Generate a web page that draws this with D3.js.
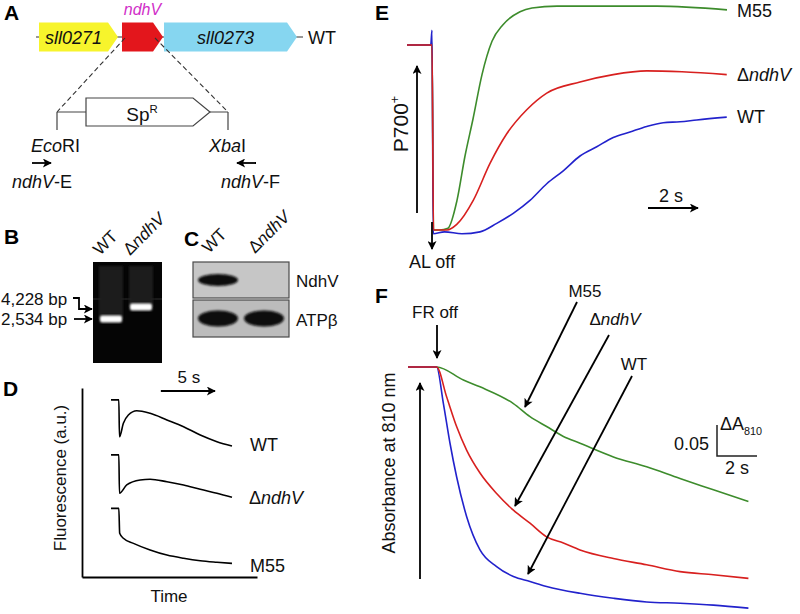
<!DOCTYPE html>
<html>
<head>
<meta charset="utf-8">
<script src="https://d3js.org/d3.v7.min.js"></script>
<style>
  body { margin: 0; background: #fff; }
  svg { font-family: "Liberation Sans", Arial, sans-serif; }
  .panel { font-size: 21px; font-weight: bold; fill: #000; }
  .trace { fill: none; stroke-width: 1.6; stroke-linejoin: round; }
  .arr { stroke: #000; stroke-width: 1.8; fill: none; }
</style>
</head>
<body>
<svg id="fig" width="800" height="614"></svg>
<script>
// ---- A: gene map (map units) ----
const geneNames = ["sll0271", "ndhV", "sll0273"];
const geneStart = [3, 86, 128];
const geneEnd = [82, 127, 261];
const geneColors = ["#f7f42c", "#e3161c", "#86d6f0"];
const cassetteName = "Sp";
const siteNames = ["Eco", "Xba"];
const primerNames = ["ndhV-E", "ndhV-F"];

// ---- B: PCR gel ----
const gelLanes = ["WT", "\u0394ndhV"];
const gelBands = [2534, 4228];
const ladderLabels = ["4,228 bp", "2,534 bp"];

// ---- C: western blot ----
const blotLanes = ["WT", "\u0394ndhV"];
const blotProteins = ["NdhV", "ATP\u03b2"];
const blotSignal = [[1, 0], [1, 1]];

// ---- D: chlorophyll fluorescence (s, a.u.) ----
const fluorStrains = ["WT", "\u0394ndhV", "M55"];
const fluorTime = [
  [0, 0.72, 0.78, 1.14, 1.6, 2.38, 3.61, 5.16, 6.7, 8.24, 9.78, 11.17],
  [0, 0.72, 0.78, 1.45, 2.69, 3.61, 5.16, 6.7, 8.24, 9.78, 11.17],
  [0, 0.72, 0.8, 1.14, 2.07, 3.61, 5.16, 6.7, 8.24, 9.78, 11.17]
];
const fluorValue = [
  [93.7, 93.7, 74.2, 81.3, 85.7, 88.0, 86.6, 83.1, 79.5, 75.1, 71.6, 69.3],
  [64.6, 64.6, 44.3, 48.7, 51.3, 51.7, 50.4, 48.7, 46.4, 44.3, 42.2],
  [36.3, 36.3, 23.1, 20.5, 17.8, 14.3, 11.6, 9.9, 8.6, 7.8, 7.2]
];

// ---- E: P700+ re-reduction after AL off (s, relative) ----
const p700Strains = ["M55", "\u0394ndhV", "WT"];
const p700Colors = ["#3d8c2c", "#d8201f", "#2222cc"];
const p700Time = [
  [0, 0.95, 1.0, 1.06, 1.3, 1.64, 2.0, 2.32, 2.64, 3.0, 3.4, 3.84, 4.52, 5.0, 6, 8, 10, 12.8],
  [0, 0.95, 1.0, 1.06, 1.3, 1.6, 1.99, 2.65, 3.32, 3.99, 4.79, 5.59, 6.92, 8.25, 9.59, 11, 12.79],
  [0, 0.95, 1.0, 1.05, 1.5, 2.2, 2.92, 3.59, 4.25, 4.92, 5.59, 6.25, 6.92, 7.59, 8.25, 8.92, 9.59, 10.25, 10.92, 11.59, 12.79]
];
const p700Value = [
  [1, 1, 1.01, 0, 0, 0.01, 0.16, 0.4, 0.6, 0.84, 1.02, 1.11, 1.18, 1.2, 1.21, 1.21, 1.21, 1.19],
  [1, 1, 1.0, 0, 0, 0.0, 0.03, 0.16, 0.36, 0.52, 0.65, 0.74, 0.80, 0.84, 0.86, 0.855, 0.84],
  [1, 1, 1.08, -0.02, -0.01, -0.02, -0.01, 0.036, 0.09, 0.16, 0.25, 0.32, 0.40, 0.45, 0.50, 0.53, 0.56, 0.58, 0.585, 0.595, 0.61]
];
const alOff = 1.0;

// ---- F: absorbance at 810 nm after FR off (s, dA) ----
const absStrains = ["M55", "\u0394ndhV", "WT"];
const absTime = [
  [0, 1.43, 2.77, 3.6, 5.27, 6.1, 6.93, 7.77, 8.6, 10.27, 11.93, 13.6, 15.27, 17.02],
  [0, 1.43, 1.93, 2.43, 2.93, 3.6, 4.43, 5.27, 6.1, 6.93, 7.77, 8.6, 10.27, 11.93, 13.6, 15.27, 17.02],
  [0, 1.43, 1.77, 2.1, 2.43, 2.93, 3.6, 4.43, 5.27, 6.1, 6.93, 8.6, 10.27, 11.93, 13.6, 15.27, 17.02]
];
const absValue = [
  [0, 0, -0.021, -0.032, -0.059, -0.080, -0.096, -0.112, -0.123, -0.145, -0.161, -0.180, -0.198, -0.217],
  [0, 0, -0.048, -0.096, -0.134, -0.171, -0.204, -0.231, -0.252, -0.274, -0.284, -0.295, -0.309, -0.319, -0.330, -0.335, -0.341],
  [0, 0, -0.059, -0.123, -0.177, -0.241, -0.295, -0.322, -0.338, -0.346, -0.354, -0.365, -0.373, -0.379, -0.381, -0.384, -0.389]
];
const frOff = 1.45;

const svg = d3.select("#fig");
const defs = svg.append("defs");
defs.append("marker").attr("id", "ah").attr("viewBox", "0 0 10 10")
  .attr("refX", 9).attr("refY", 5).attr("markerWidth", 11).attr("markerHeight", 9)
  .attr("markerUnits", "userSpaceOnUse").attr("orient", "auto")
  .append("path").attr("d", "M0,0L10,5L0,10L2.5,5z").attr("fill", "#000");
defs.append("filter").attr("id", "blur").append("feGaussianBlur").attr("stdDeviation", 1.6);
defs.append("filter").attr("id", "blur2").append("feGaussianBlur").attr("stdDeviation", 0.9);

// text helper: parts = [[text, style]] with style "i", "sup", "sub" or ""
function rich(g, x, y, parts, size, anchor) {
  const t = g.append("text").attr("x", x).attr("y", y)
    .attr("font-size", size).attr("text-anchor", anchor || "start").attr("fill", "#111");
  parts.forEach(p => {
    const s = t.append("tspan").text(p[0]);
    if (p[1] == "i") s.attr("font-style", "italic");
    if (p[1] == "sup") s.attr("font-size", size * 0.6).attr("dy", -size * 0.42);
    if (p[1] == "sub") s.attr("font-size", size * 0.6).attr("dy", size * 0.25);
  });
  return t;
}
function dndhv(g, x, y, size, anchor) {
  return rich(g, x, y, [["\u0394", ""], ["ndhV", "i"]], size, anchor);
}
function arrow(g, x1, y1, x2, y2, w) {
  g.append("line").attr("class", "arr").attr("x1", x1).attr("y1", y1)
    .attr("x2", x2).attr("y2", y2).attr("stroke-width", w || 1.8)
    .attr("marker-end", "url(#ah)");
}

// ================= A =================
const gA = svg.append("g");
gA.append("text").attr("class", "panel").attr("x", 4).attr("y", 20).text("A");
const mx = d3.scaleLinear().domain([0, 270]).range([36, 306]);
const rowY = 37, halfH = 14.5, tip = 10;
gA.append("line").attr("x1", mx(0)).attr("x2", mx(267)).attr("y1", rowY).attr("y2", rowY)
  .attr("stroke", "#333").attr("stroke-width", 1.2);
function pent(x0, x1, yc, h, tp) {
  return `M${x0},${yc - h}L${x1 - tp},${yc - h}L${x1},${yc}L${x1 - tp},${yc + h}L${x0},${yc + h}Z`;
}
geneNames.forEach((n, i) => {
  gA.append("path").attr("d", pent(mx(geneStart[i]), mx(geneEnd[i]), rowY, halfH, tip))
    .attr("fill", geneColors[i]);
  if (i == 1) {
    rich(gA, (mx(geneStart[i]) + mx(geneEnd[i])) / 2, 15, [[n, "i"]], 16, "middle").attr("fill", "#d12fc8");
  } else {
    rich(gA, (mx(geneStart[i]) + mx(geneEnd[i]) - tip) / 2, 44, [[n, "i"]], 18, "middle");
  }
});
rich(gA, 308, 44, [["WT", ""]], 18);
// dashed insertion lines
const conY = 112;
gA.append("line").attr("x1", mx(89)).attr("y1", 38).attr("x2", mx(21)).attr("y2", conY)
  .attr("stroke", "#333").attr("stroke-dasharray", "5,3").attr("stroke-width", 1.1);
gA.append("line").attr("x1", mx(119)).attr("y1", 38).attr("x2", mx(192)).attr("y2", conY)
  .attr("stroke", "#333").attr("stroke-dasharray", "5,3").attr("stroke-width", 1.1);
gA.append("line").attr("x1", mx(21)).attr("x2", mx(192)).attr("y1", conY).attr("y2", conY)
  .attr("stroke", "#444").attr("stroke-width", 1.2);
[21, 192].forEach(p => gA.append("line").attr("x1", mx(p)).attr("x2", mx(p))
  .attr("y1", conY).attr("y2", 130).attr("stroke", "#444").attr("stroke-width", 1.2));
gA.append("path").attr("d", pent(mx(50), mx(174), conY, 14, 17))
  .attr("fill", "#fff").attr("stroke", "#444").attr("stroke-width", 1.2);
rich(gA, 142, 121, [[cassetteName, ""], ["R", "sup"]], 19, "middle");
rich(gA, 31, 152, [[siteNames[0], "i"], ["RI", ""]], 18);
rich(gA, 209, 152, [[siteNames[1], "i"], ["I", ""]], 18);
arrow(gA, 32, 163, 51, 163, 2);
arrow(gA, 256, 163, 237, 163, 2);
rich(gA, 12, 188, [[primerNames[0].split("-")[0], "i"], ["-E", ""]], 18);
rich(gA, 221, 188, [[primerNames[1].split("-")[0], "i"], ["-F", ""]], 18);

// ================= B =================
const gB = svg.append("g");
gB.append("text").attr("class", "panel").attr("x", 4).attr("y", 244).text("B");
const laneX = d3.scalePoint().domain(gelLanes).range([111, 141]);
const bandY = d3.scaleLog().domain([2534, 4228]).range([319, 307]);
gB.append("rect").attr("x", 93).attr("y", 262).attr("width", 69).attr("height", 101).attr("fill", "#050505");
gB.append("line").attr("x1", 93).attr("x2", 162).attr("y1", 299).attr("y2", 299).attr("stroke", "#3a3a3a").attr("stroke-width", 0.8);
gelLanes.forEach((l, i) => {
  gB.append("rect").attr("x", laneX(l) - 12).attr("y", 266).attr("width", 24)
    .attr("height", bandY(gelBands[i]) - 266).attr("fill", "#1c1c1c").attr("filter", "url(#blur)");
  gB.append("rect").attr("x", laneX(l) - 11).attr("y", bandY(gelBands[i]) - 3.5)
    .attr("width", 22).attr("height", 7).attr("rx", 2).attr("fill", "#fff").attr("filter", "url(#blur2)");
});
const labRot = (g, x, y, l) => {
  const t = l == "WT" ? rich(g, 0, 0, [["WT", ""]], 17) : dndhv(g, 0, 0, 17);
  t.attr("transform", `translate(${x},${y}) rotate(-45)`);
};
gelLanes.forEach((l, i) => labRot(gB, laneX(l) - 11, 256, l));
rich(gB, 1, bandY(4228) - 2, [[ladderLabels[0], ""]], 17);
rich(gB, 1, bandY(2534) + 6, [[ladderLabels[1], ""]], 17);
gB.append("path").attr("d", `M73,${bandY(4228) - 9}H79V${bandY(4228) + 2}H92`)
  .attr("class", "arr").attr("stroke-width", 1.3).attr("marker-end", "url(#ah)");
arrow(gB, 74, bandY(2534), 92, bandY(2534), 1.5);

// ================= C =================
const gC = svg.append("g");
gC.append("text").attr("class", "panel").attr("x", 184).attr("y", 246).text("C");
const blotX = d3.scalePoint().domain(blotLanes).range([218, 264]);
const boxY = [262, 300], boxH = [36, 37], boxFill = ["#c6c6c6", "#bcbcbc"];
blotProteins.forEach((p, r) => {
  gC.append("rect").attr("x", 193).attr("y", boxY[r]).attr("width", 96).attr("height", boxH[r])
    .attr("fill", boxFill[r]).attr("stroke", "#4a4a4a").attr("stroke-width", 1.2);
  blotLanes.forEach((l, c) => {
    if (blotSignal[r][c] > 0) {
      gC.append("ellipse").attr("cx", blotX(l)).attr("cy", boxY[r] + boxH[r] / 2)
        .attr("rx", 20).attr("ry", r == 0 ? 6 : 8).attr("fill", "#0b0b0b").attr("filter", "url(#blur2)");
    }
  });
  rich(gC, 296, boxY[r] + boxH[r] / 2 + 7, [[p, ""]], 17);
});
blotLanes.forEach(l => labRot(gC, blotX(l) - 9, 254, l));

// ================= D =================
const gD = svg.append("g");
gD.append("text").attr("class", "panel").attr("x", 3).attr("y", 396).text("D");
const dx = d3.scaleLinear().domain([-2.68, 13.48]).range([82, 257]);
const dy = d3.scaleLinear().domain([0, 100]).range([577, 388]);
gD.append("g").attr("transform", "translate(82,0)")
  .call(d3.axisLeft(dy).tickValues([]).tickSizeOuter(0))
  .select(".domain").attr("stroke-width", 1.8);
gD.append("g").attr("transform", "translate(0,577)")
  .call(d3.axisBottom(dx).tickValues([]).tickSizeOuter(0))
  .select(".domain").attr("stroke-width", 1.8);
const dLine = d3.line().x(d => dx(d[0])).y(d => dy(d[1])).curve(d3.curveMonotoneX);
fluorStrains.forEach((s, i) => {
  const pts = fluorTime[i].map((t, j) => [t, fluorValue[i][j]]);
  gD.append("path").attr("class", "trace").attr("d", dLine(pts))
    .attr("stroke", "#000").attr("stroke-width", 2);
  const ly = dy(fluorValue[i][fluorValue[i].length - 1]) + 5;
  if (i == 1) dndhv(gD, 249, ly + 2, 18);
  else rich(gD, 250, i == 2 ? ly + 4 : ly, [[s, ""]], 18);
});
arrow(gD, dx(4.6), 391, dx(9.6), 391, 2);
rich(gD, (dx(4.6) + dx(9.6)) / 2 + 1, 383, [["5 s", ""]], 17, "middle");
rich(gD, 169, 602, [["Time", ""]], 17, "middle");
rich(gD, 0, 0, [["Fluorescence (a.u.)", ""]], 17, "middle")
  .attr("transform", "translate(66,478) rotate(-90)");

// ================= E =================
const gE = svg.append("g");
gE.append("text").attr("class", "panel").attr("x", 375).attr("y", 20).text("E");
const ex = d3.scaleLinear().domain([0, 12.8]).range([407, 727]);
const ey = d3.scaleLinear().domain([0, 1]).range([230, 45]);
const eLine = d3.line().x(d => ex(d[0])).y(d => ey(d[1])).curve(d3.curveMonotoneX);
[0, 2, 1].forEach(i => {
  const pts = p700Time[i].map((t, j) => [t, p700Value[i][j]]);
  gE.append("path").attr("class", "trace").attr("d", eLine(pts)).attr("stroke", p700Colors[i]);
});
const eLab = [17, 81, 123];
p700Strains.forEach((s, i) => {
  if (i == 1) dndhv(gE, 737, eLab[i], 18);
  else rich(gE, 737, eLab[i], [[s, ""]], 18);
});
arrow(gE, 417, 213, 417, 66, 2);
arrow(gE, ex(alOff), 222, ex(alOff), 249, 1.6);
rich(gE, ex(alOff), 258 + 10, [["AL off", ""]], 18, "middle");
rich(gE, 0, 0, [["P700", ""], ["+", "sup"]], 21, "middle")
  .attr("transform", "translate(408,124) rotate(-90)");
arrow(gE, ex(9.64), 208, ex(11.64), 208, 2);
rich(gE, (ex(9.64) + ex(11.64)) / 2 - 2, 202, [["2 s", ""]], 18, "middle");

// ================= F =================
const gF = svg.append("g");
gF.append("text").attr("class", "panel").attr("x", 375).attr("y", 303).text("F");
const fx = d3.scaleLinear().domain([0, 17]).range([408, 748]);
const fy = d3.scaleLinear().domain([0, -0.39]).range([367, 608.8]);
const fLine = d3.line().x(d => fx(d[0])).y(d => fy(d[1])).curve(d3.curveMonotoneX);
[0, 2, 1].forEach(i => {
  const pts = absTime[i].map((t, j) => [t, absValue[i][j]]);
  gF.append("path").attr("class", "trace").attr("d", fLine(pts)).attr("stroke", p700Colors[i]);
});
rich(gF, fx(frOff) - 2, 318, [["FR off", ""]], 17, "middle");
arrow(gF, fx(frOff), 325, fx(frOff), 358, 1.8);
arrow(gF, 420, 579, 420, 383, 1.8);
rich(gF, 0, 0, [["Absorbance at 810 nm", ""]], 18, "middle")
  .attr("transform", "translate(395,463) rotate(-90)");
// strain labels with pointers
rich(gF, 585, 297, [[absStrains[0], ""]], 17, "middle");
arrow(gF, 577, 302, 525, 407, 1.5);
dndhv(gF, 615, 325, 17, "middle");
arrow(gF, 609, 335, 515, 506, 1.5);
rich(gF, 634, 370, [[absStrains[2], ""]], 17, "middle");
arrow(gF, 632, 376, 528, 574, 1.5);
// scale bar
const sb0 = 15.45, sbV = -0.1435;
gF.append("path").attr("d", `M${fx(sb0)},${fy(sbV + 0.05)}V${fy(sbV)}H${fx(sb0 + 2)}`)
  .attr("fill", "none").attr("stroke", "#222").attr("stroke-width", 1.5);
rich(gF, fx(sb0) - 8, 450, [["0.05", ""]], 18, "end");
rich(gF, fx(sb0) + 3, 430, [["\u0394A", ""], ["810", "sub"]], 18);
rich(gF, fx(sb0 + 1), 474, [["2 s", ""]], 18, "middle");
</script>
</body>
</html>
